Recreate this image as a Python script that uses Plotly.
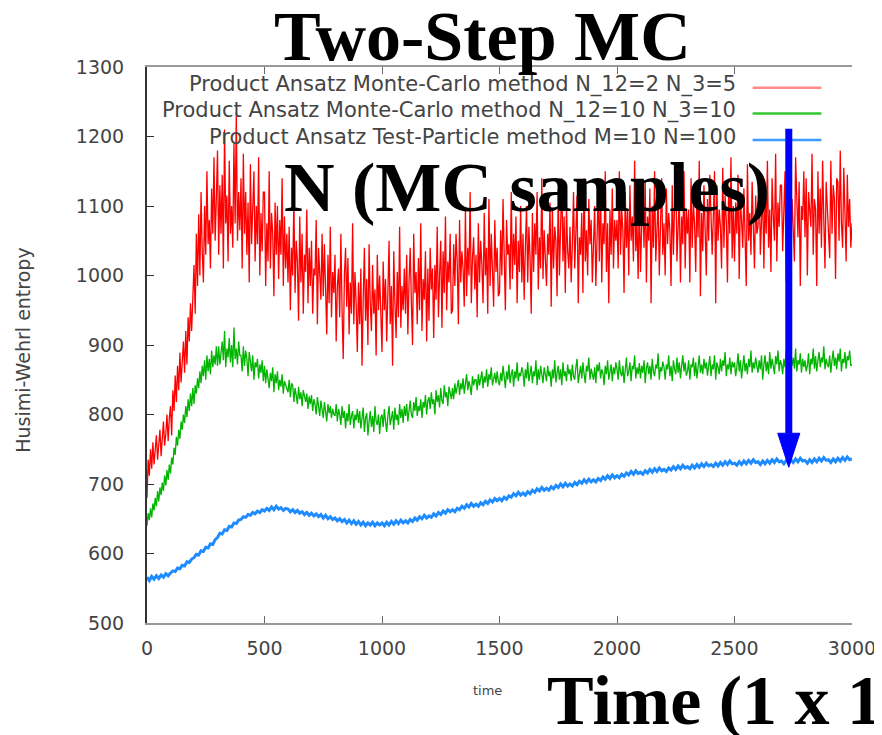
import plotly.graph_objects as go

# ---------------- data ----------------
time_mc = list(range(0, 3001, 5))       # sampling of the two Monte-Carlo runs
time_tp = list(range(0, 3001, 10))      # sampling of the test-particle run

entropy_mc_n2_n5 = [
    680, 735, 712, 750, 722, 760, 728, 745, 770, 735, 752, 778, 740, 768, 790, 755, 772, 800, 762, 795,
    812, 770, 835, 805, 856, 818, 870, 835, 889, 846, 880, 905, 860, 920, 872, 940, 905, 960, 920, 975,
    1015, 945, 1060, 985, 1088, 1000, 1120, 1035, 990, 1100, 1030, 1150, 1045, 1080, 1010, 1125, 1060, 1170, 1050, 1110,
    1180, 1030, 1130, 1060, 1145, 1010, 1210, 1075, 1115, 1020, 1165, 1060, 1100, 1040, 1190, 1075, 1235, 1050, 1120, 1065,
    1140, 1010, 1175, 1060, 1120, 1030, 1105, 990, 1160, 1045, 1090, 1150, 1020, 1100, 1045, 1170, 1000, 1090, 1035, 1120,
    1120, 985, 1075, 1020, 1150, 1010, 1090, 1060, 970, 1105, 1030, 1100, 995, 1080, 1030, 1140, 985, 1085, 1010, 1060,
    990, 1070, 950, 1040, 1000, 1110, 975, 1050, 1020, 935, 1085, 990, 1060, 945, 1030, 1005, 1095, 960, 1040, 985,
    1050, 945, 1010, 1000, 1080, 930, 1040, 1010, 965, 1060, 970, 1045, 990, 915, 1030, 960, 1070, 940, 1005, 975,
    1030, 905, 985, 1010, 940, 1060, 950, 880, 1000, 1040, 955, 1025, 915, 990, 945, 1075, 930, 1005, 960, 890,
    990, 930, 1010, 870, 965, 1040, 935, 995, 900, 1045, 960, 920, 1015, 945, 980, 885, 1030, 950, 1000, 925,
    890, 1020, 950, 995, 905, 975, 1050, 930, 985, 870, 1035, 960, 910, 1005, 940, 1070, 925, 985, 950, 1010,
    945, 1030, 915, 990, 1040, 960, 900, 1060, 975, 1005, 930, 1025, 950, 1075, 920, 995, 965, 1035, 905, 1010,
    935, 1040, 980, 1010, 910, 1015, 965, 1070, 940, 1000, 1050, 925, 1035, 975, 1085, 950, 1020, 990, 1060, 945,
    950, 1045, 985, 1060, 1020, 930, 1080, 990, 1035, 1010, 955, 1095, 970, 1040, 1000, 1120, 960, 1025, 1055, 980,
    1030, 940, 1075, 990, 1050, 1015, 960, 1090, 1000, 1040, 945, 1110, 985, 1060, 1020, 955, 1080, 1005, 1040, 970,
    975, 1065, 1000, 1110, 1030, 950, 1080, 1030, 1045, 980, 1120, 995, 1060, 1015, 1085, 960, 1050, 1005, 1100, 990,
    1060, 965, 1040, 1100, 990, 1070, 1025, 945, 1090, 1005, 1075, 1030, 1120, 980, 1055, 1010, 1140, 995, 1065, 1020,
    985, 1060, 1030, 1105, 955, 1095, 1010, 1070, 1050, 970, 1125, 1000, 1060, 1140, 1020, 1085, 975, 1100, 1035, 1010,
    1070, 990, 1045, 1120, 1010, 1085, 1115, 960, 1055, 1030, 1090, 975, 1140, 1020, 1065, 1000, 1110, 1045, 1080, 990,
    1050, 1100, 985, 1065, 1120, 1020, 1130, 990, 1075, 1045, 1150, 1005, 1075, 960, 1095, 1030, 1125, 1010, 1080, 1050,
    1080, 1010, 1150, 1030, 1095, 1065, 975, 1120, 1040, 1095, 1000, 1130, 1050, 1085, 1020, 1165, 1035, 1075, 995, 1120,
    1005, 1070, 1110, 1040, 1135, 990, 1085, 1050, 1125, 960, 1100, 1040, 1150, 1020, 1080, 1110, 1000, 1060, 1140, 1030,
    1075, 1000, 1125, 1045, 1090, 1065, 985, 1130, 1030, 1100, 1160, 1020, 1070, 1115, 990, 1085, 1045, 1150, 1010, 1095,
    1060, 1095, 990, 1140, 1040, 1105, 1075, 1005, 1120, 1055, 1165, 970, 1090, 1035, 1130, 1065, 1000, 1110, 1050, 1145,
    1100, 1030, 1085, 1150, 960, 1130, 1050, 1095, 1070, 1010, 1155, 1040, 1115, 1080, 990, 1125, 1060, 1170, 1025, 1100,
    1020, 1105, 1060, 1145, 995, 1110, 1080, 1040, 1125, 1070, 985, 1160, 1050, 1090, 1030, 1135, 1075, 1010, 1115, 1060,
    1070, 1150, 1030, 1095, 1125, 1010, 1120, 1060, 1165, 1040, 1095, 1005, 1140, 1085, 1050, 1175, 1020, 1105, 1070, 1130,
    1130, 1035, 1100, 1150, 990, 1075, 1120, 1160, 1045, 1110, 1065, 1020, 1170, 1090, 1055, 1135, 985, 1100, 1080, 1150,
    1055, 1140, 1000, 1120, 1085, 1070, 1175, 1030, 1110, 1095, 985, 1150, 1060, 1125, 1040, 1165, 1080, 1010, 1135, 1100,
    1080, 1025, 1165, 1060, 1130, 1110, 995, 1140, 1135, 1050, 1180, 1075, 1040, 1155, 1090, 1020, 1145, 1070, 1110, 1040,
    1075,
]

entropy_mc_n10_n10 = [
    640, 658, 648, 665, 652, 672, 662, 680, 668, 690, 675, 695, 684, 702, 690, 712, 698, 720, 706, 728,
    715, 738, 728, 752, 742, 768, 755, 778, 765, 790, 778, 800, 788, 812, 796, 822, 805, 830, 812, 838,
    815, 842, 830, 852, 838, 862, 845, 870, 855, 878, 850, 885, 862, 880, 858, 892, 868, 885, 872, 898,
    870, 898, 872, 890, 905, 878, 920, 868, 895, 882, 910, 875, 900, 868, 925, 880, 895, 872, 905, 885,
    885, 862, 898, 870, 892, 880, 855, 890, 870, 862, 885, 850, 875, 868, 880, 852, 872, 860, 878, 848,
    870, 845, 865, 852, 838, 860, 848, 868, 832, 858, 845, 862, 835, 850, 840, 858, 830, 848, 842, 835,
    832, 850, 825, 845, 842, 818, 838, 828, 815, 840, 822, 832, 812, 835, 825, 818, 830, 808, 826, 815,
    828, 805, 822, 815, 800, 825, 812, 798, 820, 808, 795, 818, 805, 790, 815, 802, 812, 795, 808, 800,
    798, 815, 790, 808, 800, 785, 812, 795, 805, 780, 802, 790, 815, 785, 798, 805, 780, 800, 792, 808,
    788, 805, 780, 798, 810, 775, 795, 802, 770, 790, 805, 782, 798, 775, 812, 790, 785, 800, 772, 795,
    800, 782, 808, 790, 775, 798, 812, 785, 795, 805, 778, 810, 792, 800, 785, 815, 795, 808, 788, 812,
    798, 815, 790, 808, 820, 800, 795, 818, 805, 825, 798, 812, 805, 822, 795, 818, 810, 828, 800, 820,
    825, 808, 832, 815, 822, 800, 835, 818, 828, 810, 838, 820, 815, 842, 825, 832, 812, 840, 828, 822,
    838, 822, 845, 830, 840, 850, 828, 845, 836, 852, 830, 842, 858, 835, 848, 840, 828, 855, 842, 850,
    850, 835, 858, 842, 852, 862, 838, 855, 846, 865, 840, 858, 850, 868, 842, 855, 860, 845, 862, 848,
    842, 860, 848, 870, 855, 838, 862, 850, 872, 845, 858, 865, 840, 862, 852, 875, 848, 860, 855, 868,
    860, 840, 865, 852, 875, 848, 858, 870, 845, 862, 855, 878, 842, 865, 850, 870, 858, 845, 868, 855,
    848, 870, 855, 862, 840, 865, 852, 878, 846, 860, 870, 850, 865, 842, 875, 855, 862, 848, 872, 858,
    865, 848, 872, 855, 850, 868, 880, 845, 862, 870, 852, 875, 858, 845, 870, 862, 882, 850, 866, 858,
    850, 868, 845, 872, 862, 875, 852, 865, 860, 842, 870, 858, 878, 850, 865, 872, 848, 868, 858, 875,
    865, 850, 878, 860, 855, 870, 845, 868, 882, 855, 862, 875, 848, 870, 865, 885, 852, 868, 858, 874,
    852, 870, 860, 878, 845, 866, 875, 858, 870, 850, 880, 862, 855, 872, 866, 888, 850, 868, 862, 876,
    868, 850, 872, 865, 885, 855, 870, 848, 878, 865, 858, 882, 860, 875, 852, 870, 885, 862, 875, 856,
    862, 878, 850, 872, 868, 882, 855, 875, 852, 868, 885, 860, 872, 858, 880, 866, 875, 856, 870, 884,
    855, 872, 865, 885, 850, 875, 868, 858, 880, 862, 878, 870, 890, 855, 872, 865, 882, 858, 876, 868,
    875, 855, 868, 888, 862, 878, 852, 870, 885, 862, 874, 858, 880, 868, 892, 860, 875, 866, 882, 870,
    860, 878, 865, 885, 850, 872, 885, 862, 876, 858, 890, 866, 880, 870, 858, 884, 872, 892, 862, 878,
    872, 858, 880, 868, 892, 860, 876, 855, 885, 870, 882, 866, 895, 862, 878, 872, 888, 860, 880, 868,
    878, 862, 870, 888, 858, 880, 872, 895, 866, 884, 862, 878, 890, 868, 882, 875, 898, 865, 880, 872,
    868, 885, 860, 878, 892, 870, 882, 865, 888, 876, 895, 862, 880, 874, 890, 866, 884, 878, 892, 870,
    872,
]

entropy_tp = [
    566, 561, 567, 563, 568, 564, 569, 566, 571, 568,
    572, 575, 574, 579, 578, 583, 582, 588, 587, 592,
    594, 599, 598, 604, 603, 609, 608, 614, 613, 620,
    623, 629, 628, 634, 633, 639, 638, 644, 643, 648,
    649, 653, 652, 656, 655, 659, 657, 661, 659, 663,
    661, 665, 662, 667, 663, 668, 664, 666, 662, 665,
    664, 660, 663, 659, 662, 658, 660, 656, 659, 655,
    658, 654, 657, 653, 656, 651, 655, 650, 653, 649,
    651, 647, 650, 646, 649, 644, 648, 643, 647, 642,
    646, 641, 645, 640, 644, 641, 645, 640, 644, 641,
    644, 640, 645, 641, 646, 642, 647, 643, 648, 644,
    647, 644, 649, 646, 651, 648, 653, 650, 655, 651,
    654, 652, 657, 654, 659, 656, 661, 658, 663, 660,
    663, 660, 665, 663, 668, 665, 670, 667, 672, 668,
    671, 668, 673, 670, 675, 672, 677, 674, 679, 676,
    679, 676, 681, 678, 683, 681, 686, 683, 688, 684,
    687, 684, 689, 686, 691, 688, 693, 690, 695, 691,
    694, 691, 696, 693, 698, 695, 700, 696, 701, 697,
    700, 697, 702, 699, 704, 701, 706, 702, 707, 703,
    706, 703, 708, 705, 710, 707, 712, 708, 713, 709,
    712, 709, 714, 711, 716, 713, 718, 714, 719, 715,
    717, 714, 719, 716, 721, 717, 722, 718, 723, 719,
    721, 718, 723, 720, 725, 721, 726, 722, 727, 723,
    725, 722, 727, 723, 728, 724, 729, 725, 730, 726,
    728, 725, 730, 726, 731, 727, 732, 728, 733, 729,
    730, 727, 732, 728, 733, 729, 734, 730, 735, 731,
    732, 728, 733, 729, 734, 730, 735, 731, 736, 732,
    733, 729, 734, 730, 735, 731, 736, 732, 737, 733,
    734, 730, 735, 731, 736, 732, 737, 733, 738, 734,
    735, 731, 736, 732, 737, 733, 738, 734, 739, 735,
    736,
]

series_names = [
    "Product Ansatz Monte-Carlo method N_12=2 N_3=5",
    "Product Ansatz Monte-Carlo method N_12=10 N_3=10",
    "Product Ansatz Test-Particle method M=10 N=100",
]
x_ticks = [0, 500, 1000, 1500, 2000, 2500, 3000]
y_ticks = [500, 600, 700, 800, 900, 1000, 1100, 1200, 1300]

# arrow (annotation) end points in data units
arrow_x = 2731
arrow_top = 1211
arrow_head_base = 773
arrow_tip = 724
arrow_half_w = 47

# ---------------- figure ----------------
RED, GREEN, BLUE = "#ff0000", "#00b400", "#1e8cff"
fig = go.Figure()
fig.add_trace(go.Scatter(x=time_mc, y=entropy_mc_n2_n5, mode="lines",
                         line=dict(color=RED, width=1.3), name=series_names[0],
                         showlegend=False))
fig.add_trace(go.Scatter(x=time_mc, y=entropy_mc_n10_n10, mode="lines",
                         line=dict(color=GREEN, width=1.3), name=series_names[1],
                         showlegend=False))
fig.add_trace(go.Scatter(x=time_tp, y=entropy_tp, mode="lines",
                         line=dict(color=BLUE, width=3), name=series_names[2],
                         showlegend=False))

# the page body has an 8px margin, so the figure sits 8px right/down
tickfont = dict(family="DejaVu Sans", size=19, color="#444444")
fig.update_layout(
    width=874, height=727,
    margin=dict(l=139, r=30, t=59, b=112, autoexpand=False),
    paper_bgcolor="white", plot_bgcolor="white",
    xaxis=dict(range=[0, 3000], tickvals=x_ticks, ticks="inside", ticklen=7,
               tickcolor="#666666", showline=True, linecolor="#999999",
               linewidth=2, mirror="ticks", showgrid=False, zeroline=False,
               tickfont=tickfont, ticklabelstandoff=7, automargin=False,
               ticklabeloverflow="allow"),
    yaxis=dict(range=[500, 1300], tickvals=y_ticks, ticks="inside", ticklen=7,
               tickcolor="#333333", showline=True, linecolor="#333333",
               linewidth=2, mirror=False, showgrid=False, zeroline=False,
               tickfont=tickfont, ticklabelstandoff=17, automargin=False),
    yaxis2=dict(range=[500, 1300], tickvals=y_ticks, ticks="inside", ticklen=7,
                tickcolor="#777777", showline=True, linecolor="#999999",
                linewidth=2, overlaying="y", side="right", showticklabels=False,
                showgrid=False, zeroline=False, automargin=False),
)

# legend in gnuplot style (text right-aligned, sample line on the right)
leg_colors = ["#ff8c8c", "#33c833", "#3c9cff"]
leg_y = [1270, 1233, 1195]
for name, col, ly in zip(series_names, leg_colors, leg_y):
    fig.add_annotation(x=2515, y=ly + 5, xref="x", yref="y", text=name,
                       showarrow=False, xanchor="right", yanchor="middle",
                       font=dict(family="DejaVu Sans", size=21, color="#444444"))
    fig.add_shape(type="line", x0=2577, x1=2870, y0=ly, y1=ly, xref="x",
                  yref="y", line=dict(color=col, width=2.5))

# blue arrow
fig.add_shape(type="line", x0=arrow_x, x1=arrow_x, y0=arrow_top,
              y1=arrow_head_base, xref="x", yref="y",
              line=dict(color="#0000ff", width=7))
fig.add_shape(type="path", xref="x", yref="y",
              path=(f"M {arrow_x - arrow_half_w} {arrow_head_base} "
                    f"L {arrow_x + arrow_half_w} {arrow_head_base} "
                    f"L {arrow_x} {arrow_tip} Z"),
              fillcolor="#0000ff", line=dict(color="#0000ff", width=1))

# axis titles
fig.add_annotation(x=-0.177, y=0.49, xref="paper", yref="paper",
                   text="Husimi-Wehrl entropy", textangle=-90, showarrow=False,
                   xanchor="center", yanchor="middle",
                   font=dict(family="DejaVu Sans", size=19, color="#444444"))
fig.add_annotation(x=0.483, y=-0.1216, xref="paper", yref="paper", text="time",
                   showarrow=False, xanchor="center", yanchor="middle",
                   font=dict(family="DejaVu Sans", size=13, color="#444444"))

# large overlaid texts
big = dict(family="Liberation Serif", size=70, color="black", weight="bold")
fig.add_annotation(x=0.4759, y=1.0548, xref="paper", yref="paper",
                   text="<b>Two-Step MC</b>", showarrow=False, font=big,
                   xanchor="center", yanchor="middle")
fig.add_annotation(x=0.539, y=0.783, xref="paper", yref="paper",
                   text="<b>N (MC samples)</b>", showarrow=False, font=big,
                   xanchor="center", yanchor="middle")
fig.add_annotation(x=0.565, y=-0.1394, xref="paper", yref="paper",
                   text="<b>Time (1 x 10</b>", showarrow=False, font=big,
                   xanchor="left", yanchor="middle")

fig.write_html("out.html")
